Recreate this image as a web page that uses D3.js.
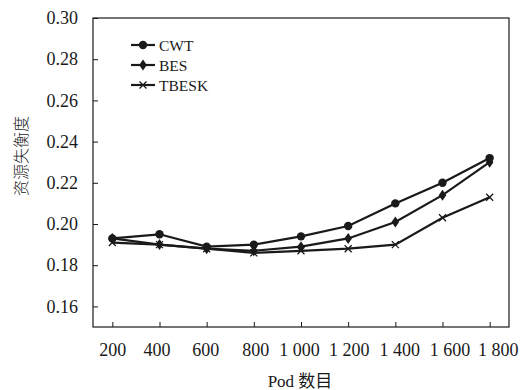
<!DOCTYPE html>
<html><head><meta charset="utf-8">
<script src="https://cdn.jsdelivr.net/npm/d3@7"></script>
<style>body{margin:0;background:#fff;} svg{display:block;}</style>
</head><body>
<script>
const categories = ["200","400","600","800","1 000","1 200","1 400","1 600","1 800"];
const cwt   = [0.193,0.195,0.189,0.190,0.194,0.199,0.210,0.220,0.232];
const bes   = [0.193,0.190,0.188,0.187,0.189,0.193,0.201,0.214,0.230];
const tbesk = [0.191,0.190,0.188,0.186,0.187,0.188,0.190,0.203,0.213];
const yTicks = [0.16,0.18,0.20,0.22,0.24,0.26,0.28,0.30];
const seriesNames = ["CWT","BES","TBESK"];
const xTitle = "Pod 数目", yTitle = "资源失衡度";

const W=522,H=390, m={l:93,t:18,r:13,b:63};
const svg=d3.select("body").append("svg").attr("width",W).attr("height",H);
const font='"Liberation Serif","Times New Roman","DejaVu Serif",serif';
const x=d3.scalePoint().domain(categories).range([m.l,W-m.r]).padding(0.41);
const y=d3.scaleLinear().domain([0.15,0.30]).range([H-m.b,m.t]);
const col="#1a1a1a";

// frame
svg.append("rect").attr("x",m.l).attr("y",m.t).attr("width",W-m.r-m.l).attr("height",H-m.b-m.t)
  .attr("fill","none").attr("stroke",col).attr("stroke-width",1.2);

// axes
const labelShift=[0,-3,-1.5,1.5,-2,0.5,4,7,8];
const xa=svg.append("g").attr("transform",`translate(0,${H-m.b})`)
  .call(d3.axisBottom(x).tickSizeInner(-5).tickSizeOuter(0).tickPadding(16));
xa.attr("font-family",null).attr("font-size",null);
xa.select(".domain").remove();
xa.selectAll("line").attr("stroke",col);
xa.selectAll("text").style("font-family",font).style("font-size","18px").attr("fill",col)
  .attr("dx",(d,i)=>labelShift[i]);

const ya=svg.append("g").attr("transform",`translate(${m.l},0)`)
  .call(d3.axisLeft(y).tickValues(yTicks).tickFormat(d3.format(".2f")).tickSizeInner(-5).tickSizeOuter(0).tickPadding(15));
ya.attr("font-family",null).attr("font-size",null);
ya.select(".domain").remove();
ya.selectAll("line").attr("stroke",col);
ya.selectAll("text").style("font-family",font).style("font-size","18px").attr("fill",col);

// titles
svg.append("text").attr("x",300).attr("y",387).attr("text-anchor","middle")
  .style("font-family",'"Liberation Serif","Noto Sans CJK SC",serif').style("font-size","17px").attr("fill",col).text(xTitle);
svg.append("text").attr("transform","translate(27,156) rotate(-90)").attr("text-anchor","middle")
  .style("font-family",'"Noto Sans CJK SC",sans-serif').style("font-size","16px").style("font-weight",300).attr("fill","#222").text(yTitle);

const data=[cwt,bes,tbesk];
const line=d3.line().x((d,i)=>x(categories[i])).y(d=>y(d));

function marker(g,type,cx,cy){
  if(type===0) g.append("circle").attr("cx",cx).attr("cy",cy).attr("r",4.2).attr("fill",col);
  else if(type===1) g.append("path").attr("d",`M${cx},${cy-5.5}L${cx+3.8},${cy}L${cx},${cy+5.5}L${cx-3.8},${cy}Z`).attr("fill",col);
  else g.append("path").attr("d",`M${cx-3.5},${cy-3.5}L${cx+3.5},${cy+3.5}M${cx-3.5},${cy+3.5}L${cx+3.5},${cy-3.5}`).attr("stroke",col).attr("stroke-width",1.3);
}

data.forEach((s,k)=>{
  const g=svg.append("g");
  g.append("path").attr("d",line(s)).attr("fill","none").attr("stroke",col).attr("stroke-width",2.2);
  s.forEach((v,i)=>marker(g,k,x(categories[i]),y(v)));
});

// legend
seriesNames.forEach((n,k)=>{
  const ly=45+k*20;
  const g=svg.append("g");
  g.append("line").attr("x1",131).attr("x2",155).attr("y1",ly).attr("y2",ly).attr("stroke",col).attr("stroke-width",2.2);
  marker(g,k,143,ly);
  g.append("text").attr("x",159).attr("y",ly+5.5).style("font-family",font).style("font-size","15.5px").attr("fill",col).text(n);
});
</script>
</body></html>
